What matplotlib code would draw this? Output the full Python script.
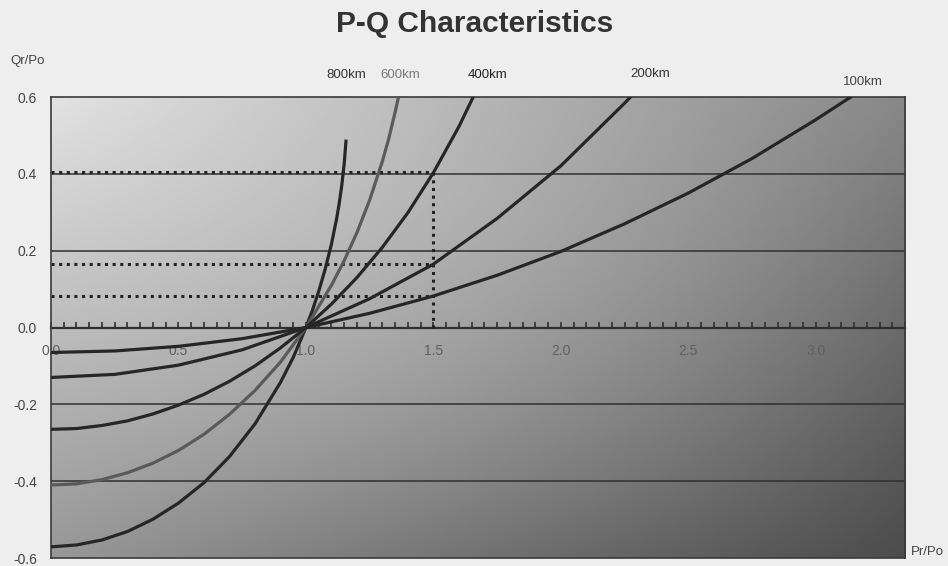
import numpy as np
import matplotlib
matplotlib.use("Agg")
import matplotlib.pyplot as plt
from matplotlib.ticker import MultipleLocator

plt.rcParams['font.family'] = ['Liberation Sans', 'DejaVu Sans']

# receiving-end power Pr/Po and reactive power Qr/Po for each line length
line_labels = ["800km", "600km", "400km", "200km", "100km"]

p_800 = [0.0, 0.1, 0.2, 0.3, 0.4, 0.5, 0.6, 0.7, 0.8, 0.9, 0.95, 1.0, 1.025, 1.05, 1.075, 1.1,
         1.12, 1.13, 1.14, 1.15, 1.157]
q_800 = [-0.571, -0.566, -0.553, -0.531, -0.499, -0.457, -0.404, -0.336, -0.251, -0.143, -0.078,
         0.0, 0.044, 0.094, 0.151, 0.217, 0.282, 0.321, 0.367, 0.426, 0.485]

p_600 = [0.0, 0.1, 0.2, 0.3, 0.4, 0.5, 0.6, 0.7, 0.8, 0.9, 1.0, 1.1, 1.15, 1.2, 1.25, 1.3, 1.325,
         1.35, 1.363]
q_600 = [-0.410, -0.407, -0.396, -0.378, -0.353, -0.320, -0.278, -0.226, -0.164, -0.090, 0.0,
         0.110, 0.174, 0.247, 0.332, 0.433, 0.492, 0.561, 0.600]

p_400 = [0.0, 0.1, 0.2, 0.3, 0.4, 0.5, 0.6, 0.7, 0.8, 0.9, 1.0, 1.1, 1.2, 1.3, 1.4, 1.5, 1.6, 1.656]
q_400 = [-0.265, -0.263, -0.255, -0.243, -0.225, -0.202, -0.174, -0.140, -0.100, -0.053, 0.0,
         0.061, 0.130, 0.209, 0.299, 0.403, 0.523, 0.600]

p_200 = [0.0, 0.25, 0.5, 0.75, 1.0, 1.25, 1.5, 1.75, 2.0, 2.25, 2.273]
q_200 = [-0.130, -0.122, -0.098, -0.058, 0.0, 0.075, 0.165, 0.284, 0.421, 0.584, 0.600]

p_100 = [0.0, 0.25, 0.5, 0.75, 1.0, 1.25, 1.5, 1.75, 2.0, 2.25, 2.5, 2.75, 3.0, 3.137]
q_100 = [-0.065, -0.061, -0.049, -0.029, 0.0, 0.037, 0.082, 0.136, 0.198, 0.270, 0.350, 0.440,
         0.541, 0.600]

curves_p = [p_800, p_600, p_400, p_200, p_100]
curves_q = [q_800, q_600, q_400, q_200, q_100]
curve_colors = ["#262626", "#5a5a5a", "#262626", "#262626", "#262626"]
label_colors = ["#333333", "#7a7a7a", "#222222", "#333333", "#444444"]
label_dx = [0, 2, 14, 20, 12]      # pixel offsets of the length labels
label_dy = [22, 22, 22, 23, 15]

# operating point at Pr/Po = 1.5
p_op = 1.5
q_op = [0.405, 0.165, 0.083]

x_ticks = [0.0, 0.5, 1.0, 1.5, 2.0, 2.5, 3.0]
y_ticks = [-0.6, -0.4, -0.2, 0.0, 0.2, 0.4, 0.6]
x_max = 3.35
y_top = 0.6

fig = plt.figure(figsize=(9.48, 5.66), dpi=100, facecolor="#eeeeee")
ax = fig.add_axes([0.0538, 0.0141, 0.9009, 0.8145])

# shaded fill: light at the upper left, dark towards lower right
u = np.linspace(0, 1, 400)
v = np.linspace(0, 1, 300)
U, V = np.meshgrid(u, v)
shade = 226 - 90 * U - 75 * V + 15 * U * V + 220 * U * (1 - U) * V * (1 - V)
ax.imshow(shade, cmap="gray", vmin=0, vmax=255, aspect="auto",
          extent=[0, x_max, -0.6, 0.6], origin="upper", zorder=0, interpolation="bilinear")

ax.set_xlim(0, x_max)
ax.set_ylim(-0.6, y_top)

for y in [0.4, 0.2, -0.2, -0.4]:
    ax.axhline(y, color="#2f2f2f", lw=1.1, zorder=1)

# dotted guides from the operating point
dots = dict(color="#222222", lw=2.2, linestyle=(0, (1, 1.5)), zorder=2)
ax.vlines(p_op, 0, q_op[0], **dots)
for q in q_op:
    ax.hlines(q, 0, p_op, **dots)

for px, qy, col, lab, lcol, dx, dy in zip(curves_p, curves_q, curve_colors, line_labels,
                                         label_colors, label_dx, label_dy):
    ax.plot(px, qy, color=col, lw=2.3, zorder=3)
    ax.annotate(lab, (px[-1], y_top), xytext=(dx, dy), textcoords="offset pixels",
                ha="center", va="center", fontsize=9.5, color=lcol, annotation_clip=False)

# x axis drawn through Q = 0
ax.set_xticks([])
sec = ax.secondary_xaxis(0.5)
sec.set_alignment("bottom")
sec.set_xticks(x_ticks)
sec.set_xticklabels([f"{t:.1f}" for t in x_ticks])
sec.xaxis.set_minor_locator(MultipleLocator(0.05))
sec.tick_params(which="both", direction="in", length=4, width=1.2, color="#2f2f2f",
                labelsize=10, labelcolor="#606060", pad=12)
sec.spines["bottom"].set_color("#2f2f2f")
sec.spines["bottom"].set_linewidth(1.6)

ax.set_yticks(y_ticks)
ax.set_yticklabels([f"{t:.1f}" for t in y_ticks])
ax.tick_params(axis="y", length=0, labelsize=10, labelcolor="#444444", pad=10)

for s in ax.spines.values():
    s.set_color("#3a3a3a")
    s.set_linewidth(1.2)

fig.text(0.501, 0.958, "P-Q Characteristics", ha="center", va="center",
         fontsize=21.5, fontweight="bold", color="#333333")
fig.text(0.011, 0.893, "Qr/Po", ha="left", va="center", fontsize=9.5, color="#444444")
fig.text(0.961, 0.025, "Pr/Po", ha="left", va="center", fontsize=9.5, color="#444444")

fig.savefig("out.png", dpi=100, facecolor=fig.get_facecolor())
